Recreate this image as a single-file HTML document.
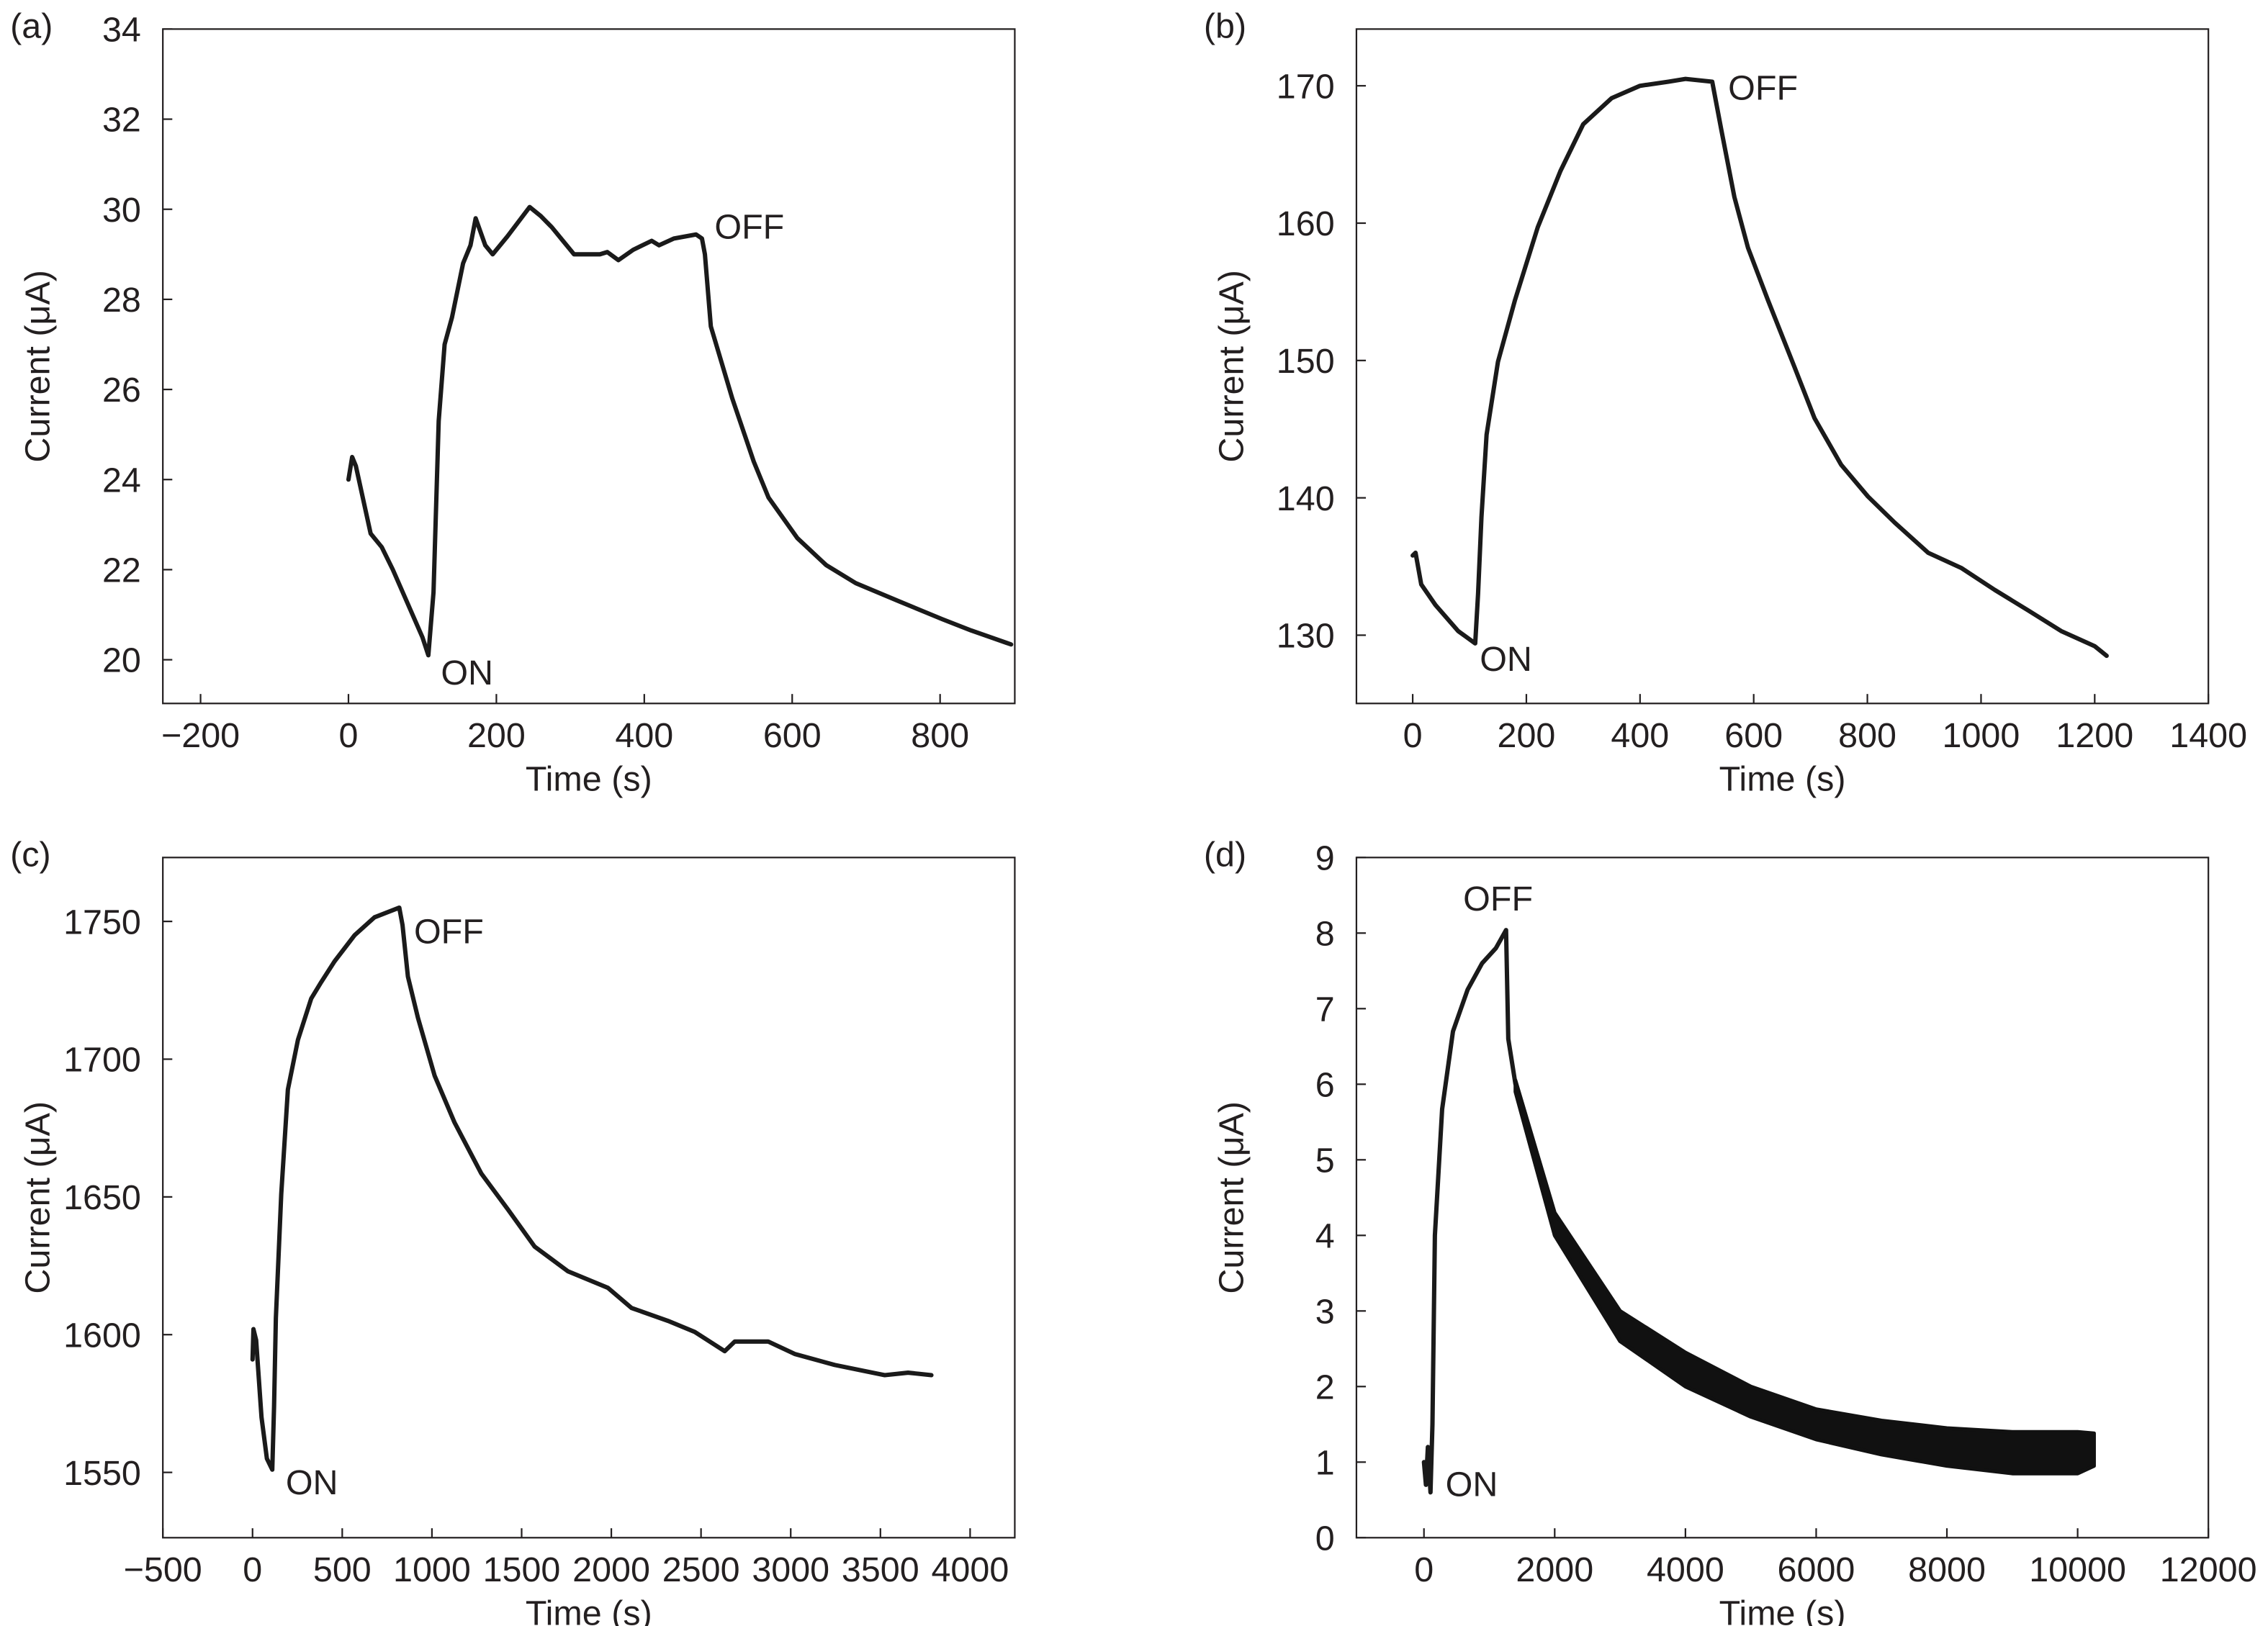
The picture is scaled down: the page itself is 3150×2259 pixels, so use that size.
<!DOCTYPE html>
<html><head><meta charset="utf-8">
<style>
html,body{margin:0;padding:0;background:#fff;}
svg{display:block;}
text{font-family:"Liberation Sans",sans-serif;fill:#231f20;}
</style></head>
<body>
<svg id="fig" width="3150" height="2259" viewBox="0 0 1560 1118.76" xmlns="http://www.w3.org/2000/svg"></svg>
<script>
// ---- Panel (a) data ----
const aTime = [0,5,10,30,45,60,100,108,115,122,130,140,155,165,172,185,195,215,245,260,275,290,305,340,350,365,385,410,420,440,470,478,482,490,519,548,568,607,646,686,744,803,842,896];
const aCurrent = [24.0,24.5,24.3,22.8,22.5,22.0,20.5,20.1,21.5,25.3,27.0,27.6,28.8,29.2,29.8,29.2,29.0,29.4,30.05,29.85,29.6,29.3,29.0,29.0,29.05,28.87,29.1,29.3,29.2,29.35,29.44,29.35,29.0,27.4,25.8,24.4,23.6,22.7,22.1,21.7,21.3,20.9,20.65,20.34];
const aXTicks = [-200,0,200,400,600,800];
const aYTicks = [20,22,24,26,28,30,32,34];
// ---- Panel (b) data ----
const bTime = [0,5,15,40,80,110,115,121,130,150,180,220,260,300,350,400,450,480,527,543,566,590,625,672,707,754,801,848,907,965,1024,1083,1141,1200,1221];
const bCurrent = [135.8,136.0,133.7,132.2,130.3,129.4,133,138.6,144.6,149.9,154.4,159.7,163.8,167.2,169.1,170.0,170.3,170.5,170.3,166.8,161.9,158.2,154.4,149.5,145.8,142.4,140.1,138.2,136.0,134.9,133.3,131.8,130.3,129.2,128.5];
const bXTicks = [0,200,400,600,800,1000,1200,1400];
const bYTicks = [130,140,150,160,170];
// ---- Panel (c) data ----
const cTime = [0,5,20,50,80,110,120,130,160,197,253,327,383,457,569,680,818,836,866,922,1015,1126,1275,1424,1572,1758,1981,2112,2316,2465,2632,2688,2874,3022,3245,3524,3654,3784];
const cCurrent = [1591,1602,1598,1570,1555,1551,1574,1606,1651,1689,1707,1722,1728,1735.5,1745,1751.5,1755,1748.7,1730,1715,1694,1677,1658.5,1645.4,1632,1623,1617,1609.7,1605,1601,1594,1597.5,1597.5,1593,1589,1585.3,1586.2,1585.3];
const cXTicks = [-500,0,500,1000,1500,2000,2500,3000,3500,4000];
const cYTicks = [1550,1600,1650,1700,1750];
// ---- Panel (d) data ----
const dTime = [0,30,60,100,130,167,278,444,667,889,1100,1256,1290,1400];
const dCurrent = [1.0,0.7,1.2,0.6,1.5,4.0,5.67,6.7,7.25,7.6,7.8,8.04,6.6,6.0];
const dBandTime = [1400,2000,3000,4000,5000,6000,7000,8000,9000,10000,10250];
const dBandUpper = [6.05,4.3,3.0,2.45,2.0,1.7,1.55,1.45,1.4,1.4,1.38];
const dBandLower = [5.9,4.0,2.6,2.0,1.6,1.3,1.1,0.95,0.85,0.85,0.95];
const dXTicks = [0,2000,4000,6000,8000,10000,12000];
const dYTicks = [0,1,2,3,4,5,6,7,8,9];

const NS = "http://www.w3.org/2000/svg";
const fig = document.getElementById('fig');
function mk(tag, attrs, parent){const e=document.createElementNS(NS,tag);for(const k in attrs)e.setAttribute(k,attrs[k]);(parent||fig).appendChild(e);return e;}
function scale(d0,d1,r0,r1){return v=>r0+(v-d0)*(r1-r0)/(d1-d0);}

function panel(cfg){
  const g = mk('g',{});
  
  
  const X = scale(cfg.xd[0],cfg.xd[1],cfg.L,cfg.R);
  const Y = scale(cfg.yd[0],cfg.yd[1],cfg.B,cfg.T);
  const fr = mk('rect',{x:cfg.L,y:cfg.T,width:cfg.R-cfg.L,height:cfg.B-cfg.T,fill:'none',stroke:'#231f20','stroke-width':1.1},g);
  
  
  cfg.xt.forEach(v=>{
    const x=X(v);
    const t=mk('line',{x1:x,x2:x,y1:cfg.B,y2:cfg.B-6.5,stroke:'#231f20','stroke-width':1.1},g);
    
    
    const lb=mk('text',{x:x,y:cfg.B+30,'text-anchor':'middle','font-size':24},g);
    
    
    lb.textContent = v<0 ? '\u2212'+Math.abs(v) : String(v);
  });
  cfg.yt.forEach(v=>{
    const y=Y(v);
    const t=mk('line',{x1:cfg.L,x2:cfg.L+6.5,y1:y,y2:y,stroke:'#231f20','stroke-width':1.1},g);
    
    
    const lb=mk('text',{x:cfg.L-15,y:y+8.5,'text-anchor':'end','font-size':24},g);
    
    
    lb.textContent = String(v);
  });
  const xt=mk('text',{x:(cfg.L+cfg.R)/2,y:cfg.B+60,'text-anchor':'middle','font-size':24},g);
  
  
  xt.textContent='Time (s)';
  const cy=(cfg.T+cfg.B)/2, cx=cfg.L-78;
  const yt=mk('text',{x:cx,y:cy,'text-anchor':'middle','font-size':24,transform:'rotate(-90 '+cx+' '+cy+')'},g);
  
  
  yt.textContent='Current (\u03bcA)';
  const pl=mk('text',{x:cfg.L-105,y:cfg.T+6,'font-size':24},g);
  
  
  pl.textContent='('+cfg.id+')';
  if(cfg.t){
    const d=cfg.t.map((t,i)=>(i?'L':'M')+X(t).toFixed(2)+','+Y(cfg.c[i]).toFixed(2)).join(' ');
    const p=mk('path',{d:d,fill:'none',stroke:'#1a1a1a','stroke-width':3,'stroke-linejoin':'round','stroke-linecap':'round'},g);
    
    
  }
  if(cfg.band){
    const b=cfg.band;
    let d=b.t.map((t,i)=>(i?'L':'M')+X(t).toFixed(2)+','+Y(b.u[i]).toFixed(2)).join(' ');
    for(let i=b.t.length-1;i>=0;i--) d+=' L'+X(b.t[i]).toFixed(2)+','+Y(b.l[i]).toFixed(2);
    d+=' Z';
    const p=mk('path',{d:d,fill:'#111','stroke':'#111','stroke-width':2.6,'stroke-linejoin':'round'},g);
    
    
  }
  cfg.ann.forEach(a=>{
    const tx=mk('text',{x:X(a[1]),y:Y(a[2]),'font-size':24},g);
    
    
    tx.textContent=a[0];
  });
}

panel({id:'a',L:112,R:698,T:20,B:484,xd:[-251,901],yd:[19.03,34],xt:aXTicks,yt:aYTicks,t:aTime,c:aCurrent,
  ann:[['ON',125,19.45],['OFF',495,29.35]]});
panel({id:'b',L:933,R:1519,T:20,B:484,xd:[-99,1400],yd:[125.03,174.13],xt:bXTicks,yt:bYTicks,t:bTime,c:bCurrent,
  ann:[['ON',118,127.4],['OFF',555,169.0]]});
panel({id:'c',L:112,R:698,T:590,B:1058,xd:[-500,4249],yd:[1526.3,1773.2],xt:cXTicks,yt:cYTicks,t:cTime,c:cCurrent,
  ann:[['ON',185,1542],['OFF',900,1742]]});
panel({id:'d',L:933,R:1519,T:590,B:1058,xd:[-1033,12000],yd:[0,9],xt:dXTicks,yt:dYTicks,t:dTime,c:dCurrent,
  band:{t:dBandTime,u:dBandUpper,l:dBandLower},
  ann:[['ON',330,0.55],['OFF',600,8.3]]});
</script>
</body></html>
